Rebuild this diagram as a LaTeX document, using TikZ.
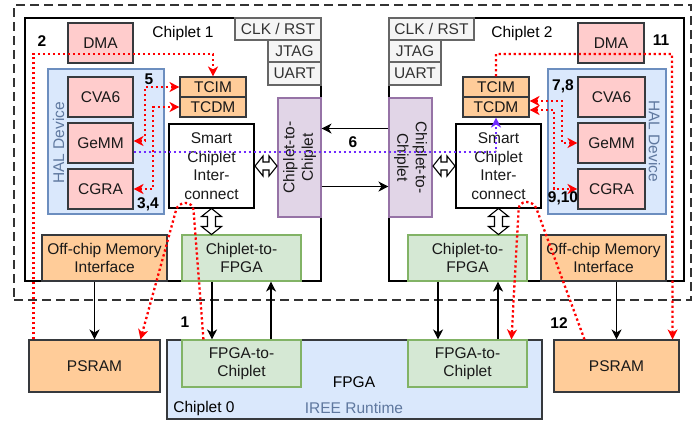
\documentclass[tikz,border=0pt]{standalone}
\usepackage{fontspec}
\setmainfont{Liberation Sans}
\usetikzlibrary{arrows.meta}
\usetikzlibrary{calc}

\definecolor{pinkfill}{HTML}{FFCCCC}
\definecolor{orangefill}{HTML}{FFCC99}
\definecolor{darkline}{HTML}{36393D}
\definecolor{grayfill}{HTML}{F5F5F5}
\definecolor{grayline}{HTML}{666666}
\definecolor{greenfill}{HTML}{D5E8D4}
\definecolor{greenline}{HTML}{82B366}
\definecolor{purplefill}{HTML}{E1D5E7}
\definecolor{purpleline}{HTML}{9673A6}
\definecolor{bluefill}{HTML}{DAE8FC}
\definecolor{blueline}{HTML}{6C8EBF}
\definecolor{bluetext}{HTML}{5F789F}
\definecolor{violet}{HTML}{6E2BFF}

% hollow two-headed bus arrow: centre, angle, length
\newcommand{\busarrow}[3]{%
  \draw[line width=1.1pt, fill=white, shift={#1}, rotate=#2]
    (-#3/2,0) -- ++(8,10) -- ++(0,-6) -- (#3/2-8,4) -- ++(0,6) -- (#3/2,0)
    -- ++(-8,-10) -- ++(0,6) -- (-#3/2+8,-4) -- ++(0,-6) -- cycle;}

\begin{document}
\begin{tikzpicture}[x=1pt, y=-1pt]
\tikzset{box/.style = {draw=darkline, line width=1.1pt, inner sep=0pt, align=center, text=black!90,
                       font=\fontsize{15.5}{18.5}\selectfont}}
\tikzset{frame/.style = {draw=black, line width=1.1pt, inner sep=0pt}}
\tikzset{greybox/.style = {box, fill=grayfill, draw=grayline, text=black!80}}
\tikzset{txt/.style = {inner sep=0pt, font=\fontsize{15.5}{18.5}\selectfont}}
\tikzset{numlabel/.style = {txt, font=\fontsize{15.5}{18.5}\selectfont\bfseries}}
\tikzset{tip/.tip = {Stealth[length=10pt, width=10pt, inset=3pt]}}
\tikzset{arr/.style = {-tip, line width=1.1pt}}
\tikzset{reddot/.style = {draw=red, line width=2.3pt, dash pattern=on 2.3pt off 2.7pt}}
\tikzset{bluedot/.style = {draw=violet, line width=2.3pt, dash pattern=on 2.3pt off 2.7pt}}

\useasboundingbox (0,0) rectangle (700,421);

% frames
\node[frame, draw=black!80, dash pattern=on 9pt off 5pt, minimum width=677pt, minimum height=295pt] (board) at (352.5,152.5) {};
\node[frame, minimum width=296pt, minimum height=263pt] (chip1) at (173,149.5) {};
\node[frame, minimum width=295pt, minimum height=263pt] (chip2) at (536.5,149.5) {};
\node[box, fill=bluefill, minimum width=375pt, minimum height=79pt] (fpga) at (354.5,379.5) {};

\node[txt] (chip1label) at (183,33) {Chiplet 1};
\node[txt] (chip2label) at (522,33) {Chiplet 2};
\node[txt] (fpgalabel) at (354,382) {FPGA};
\node[txt] (chip0label) at (204,408) {Chiplet 0};
\node[txt, text=bluetext] (ireelabel) at (354,408) {IREE Runtime};

% chiplet 1
\node[greybox, minimum width=86pt, minimum height=22pt] (clk1) at (278,29) {CLK / RST};
\node[greybox, minimum width=53pt, minimum height=22pt] (jtag1) at (294.5,51) {JTAG};
\node[greybox, minimum width=53pt, minimum height=23pt] (uart1) at (294.5,73.5) {UART};
\node[box, fill=pinkfill, minimum width=65pt, minimum height=40pt] (dma1) at (100.5,43) {DMA};
\node[box, fill=bluefill, draw=blueline, minimum width=116pt, minimum height=145pt] (hal1) at (106,141.5) {};
\node[box, fill=pinkfill, minimum width=65pt, minimum height=40pt] (cva1) at (100.5,97) {CVA6};
\node[box, fill=pinkfill, minimum width=65pt, minimum height=40pt] (gemm1) at (100.5,143) {GeMM};
\node[box, fill=pinkfill, minimum width=65pt, minimum height=40pt] (cgra1) at (100.5,189) {CGRA};
\node[txt, text=bluetext, rotate=90] (hal1label) at (58.5,143) {HAL Device};
\node[box, fill=orangefill, minimum width=66pt, minimum height=20pt] (tcim1) at (213,87) {TCIM};
\node[box, fill=orangefill, minimum width=66pt, minimum height=20pt] (tcdm1) at (213,107) {TCDM};
\node[box, fill=white, draw=black, minimum width=85pt, minimum height=84pt] (sci1) at (211.5,166) {Smart\\Chiplet\\Inter-\\connect};
\node[box, fill=purplefill, draw=purpleline, rotate=90, minimum width=119pt, minimum height=43pt] (c2c1) at (299.5,157.5) {Chiplet-to-\\Chiplet};
\node[box, fill=orangefill, minimum width=125pt, minimum height=46pt] (offchip1) at (104.5,258) {Off-chip Memory\\Interface};
\node[box, fill=greenfill, draw=greenline, minimum width=119pt, minimum height=46pt] (c2f1) at (241.5,258) {Chiplet-to-\\FPGA};

% chiplet 2
\node[greybox, minimum width=85pt, minimum height=22pt] (clk2) at (431.5,29) {CLK / RST};
\node[greybox, minimum width=52pt, minimum height=22pt] (jtag2) at (415,51) {JTAG};
\node[greybox, minimum width=52pt, minimum height=23pt] (uart2) at (415,73.5) {UART};
\node[box, fill=pinkfill, minimum width=66pt, minimum height=40pt] (dma2) at (611,43) {DMA};
\node[box, fill=bluefill, draw=blueline, minimum width=118pt, minimum height=145pt] (hal2) at (607,141.5) {};
\node[box, fill=pinkfill, minimum width=67pt, minimum height=40pt] (cva2) at (611.5,97) {CVA6};
\node[box, fill=pinkfill, minimum width=67pt, minimum height=40pt] (gemm2) at (611.5,143) {GeMM};
\node[box, fill=pinkfill, minimum width=67pt, minimum height=40pt] (cgra2) at (611.5,189) {CGRA};
\node[txt, text=bluetext, rotate=-90] (hal2label) at (654.5,141) {HAL Device};
\node[box, fill=orangefill, minimum width=66pt, minimum height=20pt] (tcim2) at (496,87) {TCIM};
\node[box, fill=orangefill, minimum width=66pt, minimum height=20pt] (tcdm2) at (496,107) {TCDM};
\node[box, fill=white, draw=black, minimum width=85pt, minimum height=84pt] (sci2) at (498.5,166) {Smart\\Chiplet\\Inter-\\connect};
\node[box, fill=purplefill, draw=purpleline, rotate=-90, minimum width=119pt, minimum height=43pt] (c2c2) at (410.5,157.5) {Chiplet-to-\\Chiplet};
\node[box, fill=greenfill, draw=greenline, minimum width=119pt, minimum height=46pt] (c2f2) at (467.5,258) {Chiplet-to-\\FPGA};
\node[box, fill=orangefill, minimum width=125pt, minimum height=46pt] (offchip2) at (603.5,258) {Off-chip Memory\\Interface};

% outside
\node[box, fill=orangefill, minimum width=131pt, minimum height=52pt] (psram1) at (94.5,366) {PSRAM};
\node[box, fill=orangefill, minimum width=125pt, minimum height=52pt] (psram2) at (616.5,366) {PSRAM};
\node[box, fill=greenfill, draw=greenline, minimum width=119pt, minimum height=47pt] (f2c1) at (241.5,363.5) {FPGA-to-\\Chiplet};
\node[box, fill=greenfill, draw=greenline, minimum width=119pt, minimum height=47pt] (f2c2) at (467.5,363.5) {FPGA-to-\\Chiplet};

% black links (c2c1 turned left: south is its right side; c2c2 turned right: south is its left side)
\draw[arr] ([yshift=29pt]c2c2.south) -- ([yshift=29pt]c2c1.south);
\draw[arr] ([yshift=-29pt]c2c1.south) -- ([yshift=-29pt]c2c2.south);
\draw[arr] (offchip1.south -| psram1.north) -- (psram1.north);
\draw[arr] ([xshift=-29.5pt]c2f1.south) -- ([xshift=-29.5pt]f2c1.north);
\draw[arr] ([xshift=29.5pt]f2c1.north) -- ([xshift=29.5pt]c2f1.south);
\draw[arr] ([xshift=-29.5pt]c2f2.south) -- ([xshift=-29.5pt]f2c2.north);
\draw[arr] ([xshift=30.5pt]f2c2.north) -- ([xshift=30.5pt]c2f2.south);
\draw[arr] (offchip2.south -| psram2.north) -- (psram2.north);

\busarrow{($(sci1.east)!0.5!(sci1.east -| c2c1.north)$)}{0}{22}
\busarrow{($(sci1.south)!0.5!(sci1.south |- c2f1.north)$)}{90}{26}
\busarrow{($(sci2.west)!0.5!(sci2.west -| c2c2.north)$)}{0}{22}
\busarrow{($(sci2.south)!0.5!(sci2.south |- c2f2.north)$)}{90}{26}

% data paths
\draw[reddot, -tip] ([xshift=5pt]psram1.north west) |- (tcim1.north |- 0,54) -- (tcim1.north);
\draw[reddot, tip-tip] ([yshift=2pt]gemm1.east) -| (145,87) -- (tcim1.west);
\draw[reddot, tip-tip] (cgra1.east) -| (153,107) -- (tcdm1.west);
\draw[reddot, -tip, rounded corners=7pt] ([xshift=22pt]f2c1.north west) -- (193,203) -- (178,203) -- ([xshift=112pt]psram1.north west);
\draw[reddot, -tip] (tcim2.north) |- (672,54) -- ([xshift=-7pt]psram2.north east);
\draw[reddot, tip-tip] ([yshift=6pt]tcdm2.east) -| (562,143) -- (gemm2.west);
\draw[reddot, tip-tip] ([yshift=-3pt]tcdm2.east) -| (554,189) -- (cgra2.west);
\draw[reddot, -tip, rounded corners=7pt] ([xshift=31pt]psram2.north west) -- (534,202) -- (519,202) -- ([xshift=104pt]f2c2.north west);
\draw[bluedot, -tip] ([yshift=-9pt]gemm1.east) -| (tcdm2.south);

\node[numlabel] (n1) at (185,322) {1};
\node[numlabel] (n2) at (42,41) {2};
\node[numlabel] (n34) at (148,204) {3,4};
\node[numlabel] (n5) at (149,79) {5};
\node[numlabel] (n6) at (353,142) {6};
\node[numlabel] (n78) at (563,86) {7,8};
\node[numlabel] (n910) at (563,198) {9,10};
\node[numlabel] (n11) at (661,40) {11};
\node[numlabel] (n12) at (559,323) {12};
\end{tikzpicture}
\end{document}
